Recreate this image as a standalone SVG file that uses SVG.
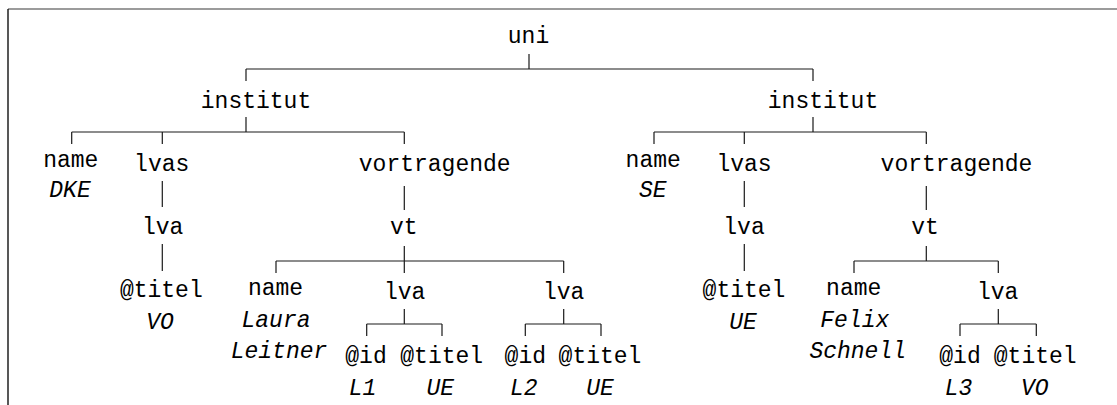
<svg xmlns="http://www.w3.org/2000/svg" width="1117" height="405" viewBox="0 0 1117 405">
  <style>
    text { font-family: "Liberation Mono", "DejaVu Sans Mono", monospace; font-size: 23px; fill: #000; text-anchor: middle; }
    text.val { font-style: italic; }
    .edge { stroke: #1a1a1a; stroke-width: 1.2; fill: none; }
    .frame-top { stroke: #7a7a7a; stroke-width: 1.6; }
    .frame-left { stroke: #111; stroke-width: 1.4; }
  </style>
  <rect width="1117" height="405" fill="#fff"/>

  <!-- frame -->
  <line class="frame-top" x1="8" y1="9" x2="1117" y2="9"/>
  <line class="frame-left" x1="8" y1="9" x2="8" y2="405"/>

  <!-- tree edges (orthogonal) -->
  <g id="connectors" class="edge">
    <!-- uni -->
    <path d="M529 54V69M246 69H813M246 69V81M813 69V81"/>
    <!-- institut (left) -->
    <path d="M246 117V132M71.7 132H404.3M71.7 132V144M162.3 132V144M404.3 132V144"/>
    <path d="M162.3 181V207"/>
    <path d="M162.3 244V271"/>
    <path d="M404.3 186V210"/>
    <!-- vt (left) -->
    <path d="M404.3 246V273M276 261H563.7M276 261V273M563.7 261V273"/>
    <path d="M404.3 309V324M366.7 324H442M366.7 324V336M442 324V336"/>
    <path d="M563.7 309V324M525.3 324H601M525.3 324V336M601 324V336"/>
    <!-- institut (right) -->
    <path d="M813 117V132M654 132H926.3M654 132V144M744.3 132V144M926.3 132V144"/>
    <path d="M744.3 181V207"/>
    <path d="M744.3 244V271"/>
    <path d="M926.3 186V210"/>
    <!-- vt (right) -->
    <path d="M926.3 246V261M854 261H998.3M854 261V273M998.3 261V273"/>
    <path d="M998.3 309V324M960 324H1036.3M960 324V336M1036.3 324V336"/>
  </g>

  <g id="n-uni"><text x="528.5" y="43">uni</text></g>

  <!-- left institute -->
  <g id="n-institut-1"><text x="256" y="108">institut</text></g>
  <g id="n-name-1"><text x="70.8" y="167">name</text><text class="val" x="70" y="197">DKE</text></g>
  <g id="n-lvas-1"><text x="161.7" y="170.5">lvas</text></g>
  <g id="n-lva-1"><text x="162.7" y="234">lva</text></g>
  <g id="n-titel-1"><text x="161.3" y="296.5">@titel</text><text class="val" x="160" y="329">VO</text></g>
  <g id="n-vortragende-1"><text x="434.7" y="170.5">vortragende</text></g>
  <g id="n-vt-1"><text x="403.7" y="234">vt</text></g>
  <g id="n-name-2"><text x="275.5" y="295">name</text><text class="val" x="276" y="327">Laura</text><text class="val" x="279" y="358">Leitner</text></g>
  <g id="n-lva-2"><text x="404.7" y="299">lva</text></g>
  <g id="n-id-1"><text x="366" y="363">@id</text><text class="val" x="362.5" y="395">L1</text></g>
  <g id="n-titel-2"><text x="441.7" y="363">@titel</text><text class="val" x="440.3" y="395">UE</text></g>
  <g id="n-lva-3"><text x="563.7" y="299">lva</text></g>
  <g id="n-id-2"><text x="525.3" y="363">@id</text><text class="val" x="523.7" y="395">L2</text></g>
  <g id="n-titel-3"><text x="600" y="363">@titel</text><text class="val" x="600" y="395">UE</text></g>

  <!-- right institute -->
  <g id="n-institut-2"><text x="823" y="108">institut</text></g>
  <g id="n-name-3"><text x="653.2" y="167">name</text><text class="val" x="652.7" y="197">SE</text></g>
  <g id="n-lvas-2"><text x="744" y="170.5">lvas</text></g>
  <g id="n-lva-4"><text x="744" y="234">lva</text></g>
  <g id="n-titel-4"><text x="744" y="296.5">@titel</text><text class="val" x="743" y="329">UE</text></g>
  <g id="n-vortragende-2"><text x="956.5" y="170.5">vortragende</text></g>
  <g id="n-vt-2"><text x="925" y="234">vt</text></g>
  <g id="n-name-4"><text x="853.7" y="295">name</text><text class="val" x="854.8" y="327">Felix</text><text class="val" x="857.7" y="358">Schnell</text></g>
  <g id="n-lva-5"><text x="997.7" y="299">lva</text></g>
  <g id="n-id-3"><text x="960" y="363">@id</text><text class="val" x="958.5" y="395">L3</text></g>
  <g id="n-titel-5"><text x="1035.2" y="363">@titel</text><text class="val" x="1034.7" y="395">VO</text></g>
</svg>
